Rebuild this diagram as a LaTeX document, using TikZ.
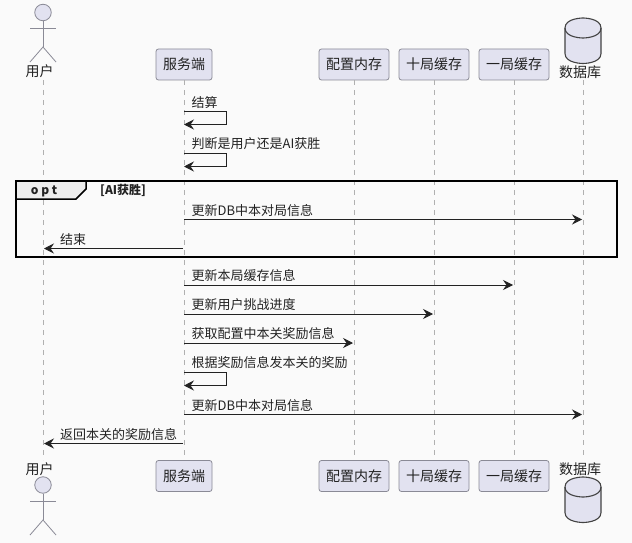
\documentclass[tikz,border=0pt]{standalone}
\usepackage{fontspec}
\setmainfont{Noto Sans CJK SC}
\usetikzlibrary{arrows.meta, positioning}
\definecolor{partfill}{HTML}{E2E2F0}
\definecolor{partline}{HTML}{8A8A96}
\definecolor{lifeline}{HTML}{B0B0B0}
\definecolor{ink}{HTML}{222222}
\definecolor{pagebg}{HTML}{FAFAFA}
\tikzset{
  part/.style={draw=partline, fill=partfill, rounded corners=2.5pt, line width=0.8pt, text=ink, font=\fontsize{14}{16}\selectfont, minimum height=31pt, inner sep=0pt},
  actorlabel/.style={text=ink, font=\fontsize{14}{16}\selectfont, inner sep=0pt},
  head/.style={circle, draw=partline, fill=partfill, line width=0.8pt, minimum size=16.5pt, inner sep=0pt},
  limb/.style={draw=partline, line width=0.8pt},
  storeline/.style={draw=ink!85, fill=partfill, line width=1.1pt},
  life/.style={draw=lifeline, line width=1pt, dash pattern=on 5pt off 5pt},
  msg/.style={draw=ink, line width=0.9pt, -{Stealth[length=10pt, width=10pt, inset=3.5pt]}},
  label/.style={text=ink, font=\fontsize{13}{16}\selectfont, inner sep=0pt, anchor=west},
  frame/.style={draw=black, line width=1.5pt},
  pics/dbcan/.style={code={
    \draw[storeline] (-18,10) .. controls (-18,0) and (0,0) .. (0,0) .. controls (0,0) and (18,0) .. (18,10)
      -- (18,35.5) .. controls (18,45.5) and (0,45.5) .. (0,45.5) .. controls (0,45.5) and (-18,45.5) .. (-18,35.5) -- cycle;
    \draw[storeline, fill=none] (-18,10) .. controls (-18,20) and (0,20) .. (0,20) .. controls (0,20) and (18,20) .. (18,10);
  }},
}

\begin{document}
\begin{tikzpicture}[x=1pt, y=-1pt]
  \useasboundingbox[fill=pagebg] (0,0) rectangle (632,543);

  % lifeline ends
  \coordinate (usrTop) at (43,80);
  \coordinate (usrEnd) at (43,460);
  \coordinate (dbTop) at (583,80);
  \coordinate (dbEnd) at (583,459);

  % participants, top row
  \node[head] (usrHeadT) at (43,12.5) {};
  \node[actorlabel] (usrT) at (39.5,71.5) {用户};
  \node[part, minimum width=56pt] (srvT) at (184,64.5) {服务端};
  \node[part, minimum width=70pt] (cfgT) at (354,64.5) {配置内存};
  \node[part, minimum width=70pt] (tenT) at (434,64.5) {十局缓存};
  \node[part, minimum width=70pt] (oneT) at (514,64.5) {一局缓存};
  \pic at (583,18) {dbcan};
  \node[actorlabel] (dbLabT) at (580,72) {数据库};

  % participants, bottom row
  \node[head] (usrHeadB) at (43,485) {};
  \node[actorlabel] (usrB) at (39.5,469) {用户};
  \node[part, minimum width=56pt] (srvB) at (184,476) {服务端};
  \node[part, minimum width=70pt] (cfgB) at (354,476) {配置内存};
  \node[part, minimum width=70pt] (tenB) at (434,476) {十局缓存};
  \node[part, minimum width=70pt] (oneB) at (514,476) {一局缓存};
  \pic at (583,477) {dbcan};
  \node[actorlabel] (dbLabB) at (580,469) {数据库};

  % stick figures
  \coordinate (armLT) at (30,28);
  \coordinate (armRT) at (56,28);
  \coordinate (hipT) at (43,47);
  \coordinate (legLT) at (30,62);
  \coordinate (legRT) at (56,62);
  \draw[limb] (usrHeadT.south) -- (hipT);
  \draw[limb] (armLT) -- (armRT);
  \draw[limb] (legLT) -- (hipT) -- (legRT);
  \coordinate (armLB) at (30,501);
  \coordinate (armRB) at (56,501);
  \coordinate (hipB) at (43,520);
  \coordinate (legLB) at (30,535);
  \coordinate (legRB) at (56,535);
  \draw[limb] (usrHeadB.south) -- (hipB);
  \draw[limb] (armLB) -- (armRB);
  \draw[limb] (legLB) -- (hipB) -- (legRB);

  % lifelines
  \draw[life] (usrTop) -- (usrEnd);
  \draw[life] (srvT.south) -- (srvB.north);
  \draw[life] (cfgT.south) -- (cfgB.north);
  \draw[life] (tenT.south) -- (tenB.north);
  \draw[life] (oneT.south) -- (oneB.north);
  \draw[life] (dbTop) -- (dbEnd);

  % opt frame
  \node[frame, minimum width=601pt, minimum height=76pt, inner sep=0pt] (optBox) at (316.5,219) {};
  \coordinate (tabA) at (16,181);
  \coordinate (tabB) at (86,181);
  \coordinate (tabC) at (86,189);
  \coordinate (tabD) at (76,199);
  \coordinate (tabE) at (16,199);
  \draw[frame, fill=gray!14] (tabA) -- (tabB) -- (tabC) -- (tabD) -- (tabE) -- cycle;
  \node[text=ink, font=\fontsize{12}{13}\bfseries\selectfont\addfontfeature{LetterSpace=25}, inner sep=0pt] (optTag) at (44,191) {opt};
  \node[text=ink, font=\fontsize{12}{13}\selectfont, inner sep=0pt, anchor=west] (optCond) at (100,190.5) {\textbf{[AI获胜]}};

  % messages
  \coordinate (s1a) at (184,111);
  \coordinate (s1b) at (226,111);
  \coordinate (s1c) at (226,124.5);
  \coordinate (s1d) at (184,124.5);
  \node[label] (s1t) at (191.5,102.2) {结算};
  \draw[msg] (s1a) -- (s1b) -- (s1c) -- (s1d);

  \coordinate (s2a) at (184,153);
  \coordinate (s2b) at (226,153);
  \coordinate (s2c) at (226,166.5);
  \coordinate (s2d) at (184,166.5);
  \node[label] (s2t) at (191.5,144) {判断是用户还是AI获胜};
  \draw[msg] (s2a) -- (s2b) -- (s2c) -- (s2d);

  \coordinate (m1a) at (184,219.5);
  \coordinate (m1b) at (582,219.5);
  \node[label] (m1t) at (191.5,210.5) {更新DB中本对局信息};
  \draw[msg] (m1a) -- (m1b);

  \coordinate (m2a) at (183,248.5);
  \coordinate (m2b) at (44,248.5);
  \node[label] (m2t) at (60,239.5) {结束};
  \draw[msg] (m2a) -- (m2b);

  \coordinate (m3a) at (184,285);
  \coordinate (m3b) at (513,285);
  \node[label] (m3t) at (191.5,275.5) {更新本局缓存信息};
  \draw[msg] (m3a) -- (m3b);

  \coordinate (m4a) at (184,314);
  \coordinate (m4b) at (433,314);
  \node[label] (m4t) at (191.5,305) {更新用户挑战进度};
  \draw[msg] (m4a) -- (m4b);

  \coordinate (m5a) at (184,343);
  \coordinate (m5b) at (353,343);
  \node[label] (m5t) at (191.5,334) {获取配置中本关奖励信息};
  \draw[msg] (m5a) -- (m5b);

  \coordinate (s3a) at (184,372);
  \coordinate (s3b) at (226,372);
  \coordinate (s3c) at (226,385.5);
  \coordinate (s3d) at (184,385.5);
  \node[label] (s3t) at (191.5,363) {根据奖励信息发本关的奖励};
  \draw[msg] (s3a) -- (s3b) -- (s3c) -- (s3d);

  \coordinate (m6a) at (184,414.5);
  \coordinate (m6b) at (582,414.5);
  \node[label] (m6t) at (191.5,405.5) {更新DB中本对局信息};
  \draw[msg] (m6a) -- (m6b);

  \coordinate (m7a) at (183,443.5);
  \coordinate (m7b) at (44,443.5);
  \node[label] (m7t) at (60,434.5) {返回本关的奖励信息};
  \draw[msg] (m7a) -- (m7b);
\end{tikzpicture}
\end{document}
